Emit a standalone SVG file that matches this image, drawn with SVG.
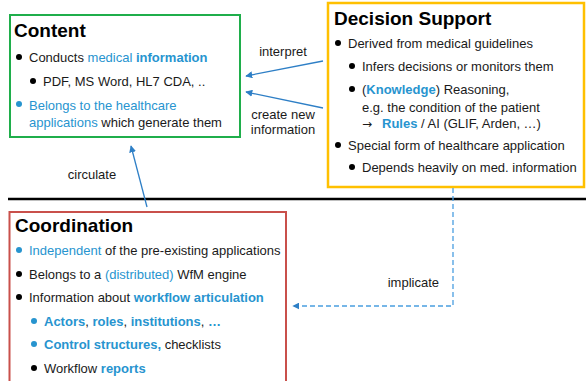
<svg xmlns="http://www.w3.org/2000/svg" width="586" height="381" viewBox="0 0 586 381">
<style>
text{font-family:"Liberation Sans",Arial,sans-serif;font-size:13px;fill:#1a1a1a}
.t{font-size:19px;font-weight:bold;fill:#000}
.b{fill:#2794cf}
.bb{fill:#2794cf;font-weight:bold}
.lbl{text-anchor:middle}
.dk{fill:#000}
.db{fill:#2794cf}
.ar{font-family:"DejaVu Sans",sans-serif;font-size:12px}
</style>
<defs>
<marker id="ah" viewBox="0 0 10 10" refX="9" refY="5" markerWidth="7" markerHeight="7" orient="auto-start-reverse" markerUnits="userSpaceOnUse">
<path d="M0,0 L10,5 L0,10 z" fill="#2e7fc6"/>
</marker>
</defs>
<rect width="586" height="381" fill="#fff"/>
<line x1="8" y1="199" x2="586" y2="199" stroke="#000" stroke-width="2.5"/>
<g id="content">
<rect x="10" y="15" width="230" height="122" fill="none" stroke="#1fae4b" stroke-width="2"/>
<text class="t" x="14" y="37">Content</text>
<circle class="dk" cx="19" cy="57" r="3"/>
<text x="29" y="62">Conducts <tspan class="b">medical </tspan><tspan class="bb">information</tspan></text>
<circle class="dk" cx="33" cy="81" r="3"/>
<text x="43" y="86">PDF, MS Word, HL7 CDA, ..</text>
<circle class="db" cx="19" cy="104" r="3"/>
<text x="29" y="110" class="b">Belongs to the healthcare</text>
<text x="29" y="127"><tspan class="b">applications</tspan> which generate them</text>
</g>
<g id="decision">
<rect x="328" y="3" width="256" height="184" fill="none" stroke="#ffc000" stroke-width="2.5"/>
<text class="t" x="334" y="25">Decision Support</text>
<circle class="dk" cx="338" cy="43" r="3"/>
<text x="348" y="48">Derived from medical guidelines</text>
<circle class="dk" cx="352" cy="66" r="3"/>
<text x="362" y="71">Infers decisions or monitors them</text>
<circle class="dk" cx="352" cy="89" r="3"/>
<text x="362" y="94">(<tspan class="bb">Knowledge</tspan>) Reasoning,</text>
<text x="362" y="112">e.g. the condition of the patient</text>
<text x="362" y="128"><tspan class="ar">→</tspan><tspan x="382" class="bb">Rules</tspan> / AI (GLIF, Arden, …)</text>
<circle class="dk" cx="338" cy="145" r="3"/>
<text x="348" y="150">Special form of healthcare application</text>
<circle class="dk" cx="352" cy="167" r="3"/>
<text x="362" y="172">Depends heavily on med. information</text>
</g>
<g id="coordination">
<rect x="9.5" y="212" width="276.5" height="180" fill="none" stroke="#c9504b" stroke-width="2"/>
<text class="t" x="15" y="232">Coordination</text>
<circle class="db" cx="19" cy="250" r="3"/>
<text x="29" y="255"><tspan class="b">Independent</tspan> of the pre-existing applications</text>
<circle class="dk" cx="19" cy="274" r="3"/>
<text x="29" y="279">Belongs to a <tspan class="b">(distributed)</tspan> WfM engine</text>
<circle class="dk" cx="19" cy="297" r="3"/>
<text x="29" y="302">Information about <tspan class="bb">workflow articulation</tspan></text>
<circle class="db" cx="34" cy="321" r="3"/>
<text x="44" y="326"><tspan class="bb">Actors</tspan>, <tspan class="bb">roles</tspan>, <tspan class="bb">institutions</tspan>, <tspan class="bb">…</tspan></text>
<circle class="db" cx="34" cy="344" r="3"/>
<text x="44" y="349"><tspan class="bb">Control structures,</tspan> checklists</text>
<circle class="dk" cx="34" cy="368" r="3"/>
<text x="44" y="373">Workflow <tspan class="bb">reports</tspan></text>
</g>
<g id="connectors">
<line x1="323" y1="61" x2="246" y2="76" stroke="#2e7fc6" stroke-width="1.3" marker-end="url(#ah)"/>
<line x1="323" y1="108" x2="246" y2="92" stroke="#2e7fc6" stroke-width="1.3" marker-end="url(#ah)"/>
<line x1="147" y1="207" x2="131" y2="146" stroke="#2e7fc6" stroke-width="1.3" marker-end="url(#ah)"/>
<polyline points="453,188 453,306 293,306" fill="none" stroke="#4a9ee0" stroke-width="1.3" stroke-dasharray="5,3" marker-end="url(#ah)"/>
<text x="283" y="56" class="lbl">interpret</text>
<text x="283" y="119" class="lbl">create new</text>
<text x="283" y="134" class="lbl">information</text>
<text x="92" y="179" class="lbl">circulate</text>
<text x="439" y="287" text-anchor="end">implicate</text>
</g>
</svg>
